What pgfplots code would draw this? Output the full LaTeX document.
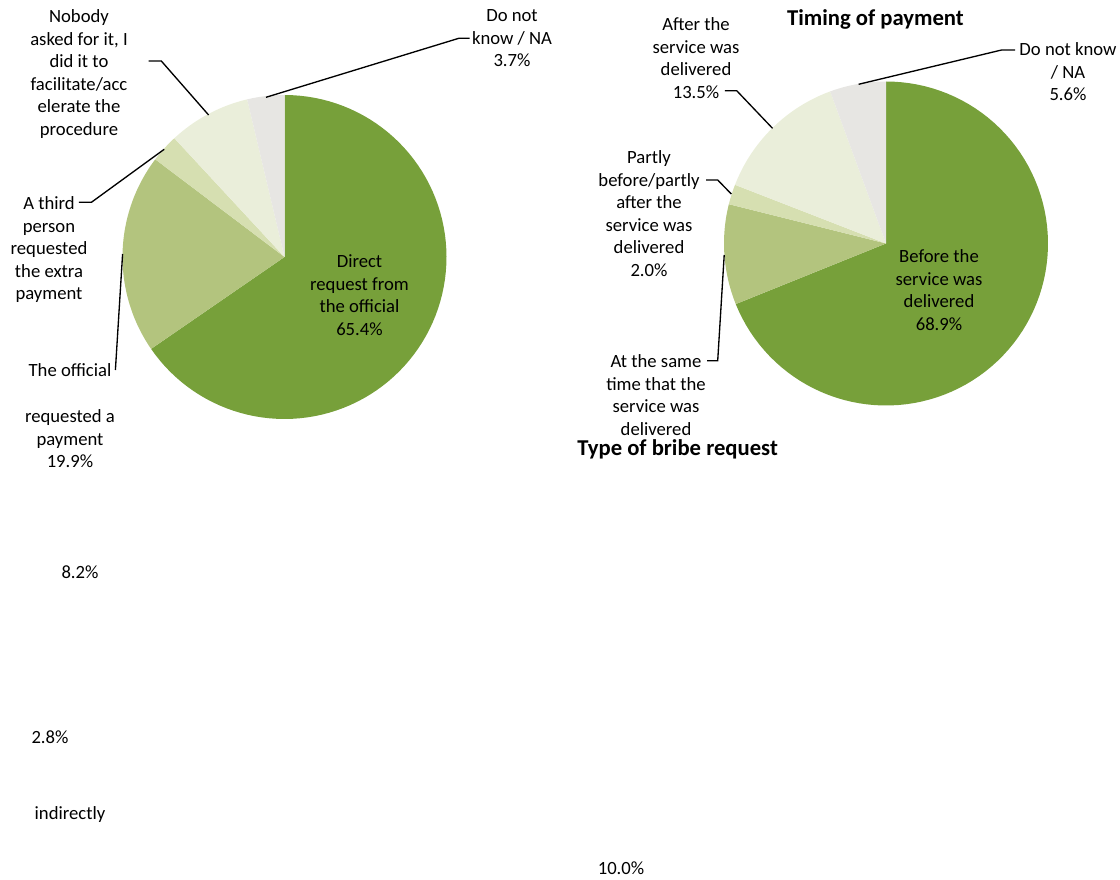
\documentclass[border=0pt]{standalone}
\usepackage{pgfplots}
\pgfplotsset{compat=1.18}
\usepackage{fontspec}
\setmainfont{Carlito}
\definecolor{c1}{HTML}{77A03A}
\definecolor{c2}{HTML}{B3C47E}
\definecolor{c3}{HTML}{D6DFB1}
\definecolor{c4}{HTML}{EAEEDA}
\definecolor{c5}{HTML}{E7E6E3}
\newcommand{\lblfont}{\fontsize{14}{16.9}\selectfont}
% slice: cx, cy, cumulative start %, cumulative end %, colour
\newcommand{\slice}[5]{%
  \addplot[draw=none, fill=#5, domain=-90+3.6*#3:-90+3.6*#4, samples=90, variable=\t]
    ({#1+162*cos(\t)}, {#2+162*sin(\t)}) -- (axis cs:#1,#2) -- cycle;}
\newcommand{\lbl}[3]{\node[anchor=north, align=center, inner sep=0pt, font=\lblfont, yshift=4.2pt] at (axis cs:#1,#2) {#3};}
\begin{document}
\begin{tikzpicture}
\begin{axis}[
  scale only axis, width=840pt, height=660pt,
  xmin=0, xmax=1120, ymin=0, ymax=880, y dir=reverse,
  hide axis, clip=false,
]
% Left pie: Type of bribe request
% 65.4, 19.9, 2.8, 8.2, 3.7
\slice{284.5}{257}{0}{65.4}{c1}
\slice{284.5}{257}{65.4}{85.3}{c2}
\slice{284.5}{257}{85.3}{88.1}{c3}
\slice{284.5}{257}{88.1}{96.3}{c4}
\slice{284.5}{257}{96.3}{100}{c5}
% Right pie: Timing of payment
% 68.9, 10.0, 2.0, 13.5, 5.6
\slice{886}{243.5}{0}{68.9}{c1}
\slice{886}{243.5}{68.9}{78.9}{c2}
\slice{886}{243.5}{78.9}{80.9}{c3}
\slice{886}{243.5}{80.9}{94.4}{c4}
\slice{886}{243.5}{94.4}{100}{c5}

% leader lines
\draw[line width=1pt] (axis cs:469.5,38.3) -- (axis cs:458.8,38.3) -- (axis cs:266,97.3);
\draw[line width=1pt] (axis cs:148.7,61) -- (axis cs:161.3,61) -- (axis cs:208.6,115);
\draw[line width=1pt] (axis cs:78.9,202.3) -- (axis cs:91.4,202.3) -- (axis cs:164.2,149.3);
\draw[line width=1pt] (axis cs:115.4,370) -- (axis cs:122.6,254);
\draw[line width=1pt] (axis cs:724.9,90.7) -- (axis cs:736.7,90.7) -- (axis cs:772.5,128.3);
\draw[line width=1pt] (axis cs:1015.2,50) -- (axis cs:1001.6,50) -- (axis cs:858.6,84.3);
\draw[line width=1pt] (axis cs:706.2,180) -- (axis cs:717.7,180) -- (axis cs:731.3,194);
\draw[line width=1pt] (axis cs:707,360.7) -- (axis cs:717.7,360.7) -- (axis cs:724.2,255);

% labels, left pie
\lbl{512}{15}{Do not\\know / NA\\3.7\%}
\lbl{79}{15}{Nobody\\asked for it, I\\did it to\\facilitate/acc\\elerate the\\procedure}
\lbl{49}{202}{A third\\person\\requested\\the extra\\payment}
\lbl{70}{369}{The official}
\lbl{70}{415}{requested a\\payment\\19.9\%}
\lbl{359.5}{260}{Direct\\request from\\the official\\65.4\%}
\lbl{80}{571}{8.2\%}
\lbl{50}{736}{2.8\%}
\lbl{70}{812}{indirectly}
\lbl{621}{867}{10.0\%}

% labels, right pie
\lbl{696}{23}{After the\\service was\\delivered\\13.5\%}
\lbl{1068}{48}{Do not know\\/ NA\\5.6\%}
\lbl{649}{156}{Partly\\before/partly\\after the\\service was\\delivered\\2.0\%}
\lbl{656}{360}{At the same\\time that the\\service was\\delivered}
\lbl{939}{255}{Before the\\service was\\delivered\\68.9\%}

% titles
\node[font=\bfseries\fontsize{17}{20}\selectfont, inner sep=0pt] at (axis cs:875.4,19) {Timing of payment};
\node[font=\bfseries\fontsize{17}{20}\selectfont, inner sep=0pt] at (axis cs:677.6,449) {Type of bribe request};
\end{axis}
\pgfresetboundingbox
\useasboundingbox (0,0) rectangle (840pt,660pt);
\end{tikzpicture}
\end{document}
